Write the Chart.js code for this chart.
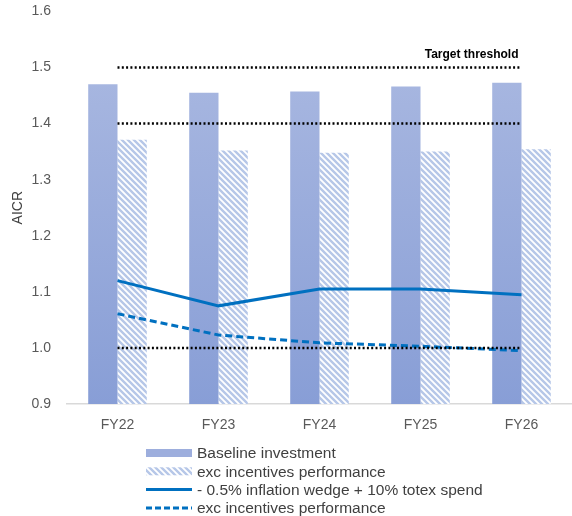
<!DOCTYPE html>
<html>
<head>
<meta charset="utf-8">
<script src="https://cdn.jsdelivr.net/npm/chart.js@4/dist/chart.umd.min.js"></script>
<style>
  html, body { margin: 0; padding: 0; background: #fff; }
  #wrap { width: 572px; height: 516px; position: relative; }
</style>
</head>
<body>
<div id="wrap"><canvas id="aicrChart"></canvas></div>
<script>
// 数据
const categories = ['FY22', 'FY23', 'FY24', 'FY25', 'FY26'];
const baselineInvestment = [1.470, 1.455, 1.457, 1.466, 1.473];
const excIncentivesBars = [1.371, 1.352, 1.348, 1.350, 1.354];
const inflationWedge = [1.120, 1.075, 1.105, 1.105, 1.095];
const excIncentivesLine = [1.061, 1.023, 1.009, 1.003, 0.995];
const thresholdLevels = [1.5, 1.4, 1.0];
const yTicks = [0.9, 1.0, 1.1, 1.2, 1.3, 1.4, 1.5, 1.6];

const seriesLabels = [
    'Baseline investment',
    'exc incentives performance',
    '- 0.5% inflation wedge + 10% totex spend',
    'exc incentives performance'
];

const FONT = '"Liberation Sans", Arial, sans-serif';
const LINE_BLUE = '#0070C0';

// 斜线填充
function makeHatch() {
    const size = 6;
    const c = document.createElement('canvas');
    c.width = size; c.height = size;
    const g = c.getContext('2d');
    g.fillStyle = '#ffffff';
    g.fillRect(0, 0, size, size);
    g.strokeStyle = '#B6C7E8';
    g.lineWidth = 2.4;
    g.beginPath();
    g.moveTo(-1, -1); g.lineTo(size + 1, size + 1);
    g.moveTo(-size - 1, -1); g.lineTo(1, size + 1);
    g.moveTo(-1, -size - 1); g.lineTo(size + 1, 1);
    g.stroke();
    return g.createPattern(c, 'repeat');
}

const ctx = document.getElementById('aicrChart');
const hatch = makeHatch();

// 渐变填充
function baselineFill(context) {
    const area = context.chart.chartArea;
    if (!area) return '#99ABDB';
    const grad = context.chart.ctx.createLinearGradient(0, area.top, 0, area.bottom);
    grad.addColorStop(0, '#ADBBE2');
    grad.addColorStop(1, '#889ED6');
    return grad;
}

const thresholdSets = thresholdLevels.map(v => ({
    type: 'line',
    label: 'threshold',
    data: categories.map(() => v),
    borderColor: '#000000',
    borderWidth: 2.5,
    borderDash: [2, 2.3],
    pointRadius: 0,
    fill: false,
    order: 0
}));

// 自定义图例和文字
const extrasPlugin = {
    id: 'extras',
    afterDraw(chart) {
        const c = chart.ctx;
        const y = chart.scales.y;
        const x = chart.scales.x;

        c.save();
        c.font = 'bold 12px ' + FONT;
        c.fillStyle = '#000000';
        c.textAlign = 'right';
        c.textBaseline = 'alphabetic';
        c.fillText('Target threshold', x.getPixelForValue(4) - 3, y.getPixelForValue(1.5) - 9);
        c.restore();

        const left = 146, boxW = 46, rowTop = 453, rowH = 18.3;
        c.save();
        c.font = '15.5px ' + FONT;
        c.fillStyle = '#404040';
        c.textBaseline = 'middle';
        c.textAlign = 'left';
        seriesLabels.forEach((text, i) => {
            const cy = rowTop + i * rowH;
            if (i === 0) {
                c.fillStyle = '#9DAEDD';
                c.fillRect(left, cy - 4, boxW, 8);
            } else if (i === 1) {
                c.fillStyle = hatch;
                c.fillRect(left, cy - 4, boxW, 8);
            } else {
                c.strokeStyle = LINE_BLUE;
                c.lineWidth = 3;
                c.setLineDash(i === 3 ? [6, 3] : []);
                c.beginPath();
                c.moveTo(left, cy);
                c.lineTo(left + boxW, cy);
                c.stroke();
                c.setLineDash([]);
            }
            c.fillStyle = '#404040';
            c.fillText(text, left + boxW + 5, cy + 1);
        });
        c.restore();
    }
};

new Chart(ctx, {
    type: 'bar',
    data: {
        labels: categories,
        datasets: [
            ...thresholdSets,
            {
                type: 'line',
                label: seriesLabels[2],
                data: inflationWedge,
                borderColor: LINE_BLUE,
                borderWidth: 3,
                pointRadius: 0,
                tension: 0,
                order: 1
            },
            {
                type: 'line',
                label: seriesLabels[3],
                data: excIncentivesLine,
                borderColor: LINE_BLUE,
                borderWidth: 3,
                borderDash: [7, 4],
                pointRadius: 0,
                tension: 0,
                order: 1
            },
            {
                label: seriesLabels[0],
                data: baselineInvestment,
                backgroundColor: baselineFill,
                barPercentage: 1,
                categoryPercentage: 0.58,
                order: 2
            },
            {
                label: seriesLabels[1],
                data: excIncentivesBars,
                backgroundColor: hatch,
                barPercentage: 1,
                categoryPercentage: 0.58,
                order: 2
            }
        ]
    },
    options: {
        responsive: true,
        maintainAspectRatio: false,
        animation: false,
        layout: {
            padding: { top: 4, right: 0, bottom: 0, left: 0 }
        },
        plugins: {
            legend: { display: false },
            tooltip: { enabled: false }
        },
        scales: {
            x: {
                grid: { display: false, drawTicks: false },
                border: { display: true, color: '#D9D9D9', width: 1.5 },
                ticks: {
                    color: '#595959',
                    padding: 13,
                    font: { family: FONT, size: 14 }
                },
                afterFit(scale) { scale.height = 112; }
            },
            y: {
                min: 0.9,
                max: 1.6,
                grid: { display: false, drawTicks: true, tickLength: 13 },
                border: { display: false },
                afterBuildTicks(scale) {
                    scale.ticks = yTicks.map(v => ({ value: v }));
                },
                ticks: {
                    color: '#595959',
                    padding: 3,
                    font: { family: FONT, size: 14 },
                    callback: v => Number(v).toFixed(1)
                },
                title: {
                    display: true,
                    text: 'AICR',
                    color: '#404040',
                    padding: { top: 10, bottom: 0 },
                    font: { family: FONT, size: 14 }
                },
                afterFit(scale) { scale.width = 67; }
            }
        }
    },
    plugins: [extrasPlugin]
});
</script>
</body>
</html>
